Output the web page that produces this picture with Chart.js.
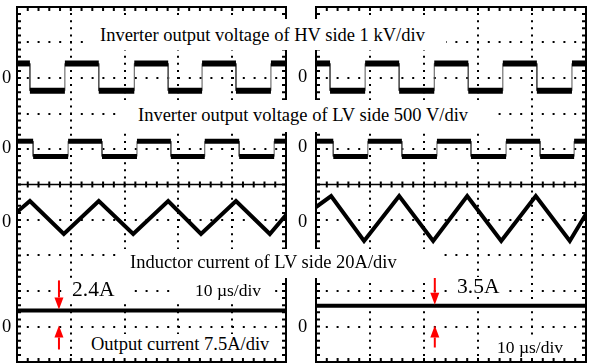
<!DOCTYPE html>
<html>
<head>
<meta charset="utf-8">
<script src="https://cdn.jsdelivr.net/npm/chart.js@4.4.0/dist/chart.umd.min.js"></script>
<style>
html, body { margin: 0; padding: 0; background: #fff; }
#wrap { position: relative; width: 594px; height: 364px; overflow: hidden;
        font-family: "Liberation Serif", "Times New Roman", serif; }
canvas { position: absolute; top: 0; }
.box { position: absolute; background: #fff; }
.lbl { position: absolute; white-space: nowrap; color: #000; line-height: 1; font-size: 18.5px; }
.big { font-size: 21.5px; }
.small { font-size: 17.5px; }
</style>
</head>
<body>
<div id="wrap">
  <canvas id="left" width="297" height="364" style="left:0"></canvas>
  <canvas id="right" width="297" height="364" style="left:297px"></canvas>

  <div class="box" style="left:88px;top:19px;width:358px;height:31px"></div>
  <div class="lbl" style="left:100px;top:25.5px">Inverter output voltage of HV side 1 kV/div</div>

  <div class="box" style="left:118px;top:100px;width:372px;height:32px"></div>
  <div class="lbl" style="left:138px;top:105.5px">Inverter output voltage of LV side 500 V/div</div>

  <div class="box" style="left:124px;top:249px;width:318px;height:29px"></div>
  <div class="lbl" style="left:130px;top:252.5px">Inductor current of LV side 20A/div</div>

  <div class="box" style="left:65px;top:280px;width:68px;height:20px"></div>
  <div class="lbl big" style="left:72px;top:279px">2.4A</div>

  <div class="box" style="left:172px;top:281px;width:96px;height:20px"></div>
  <div class="lbl small" style="left:195px;top:282.3px">10 µs/div</div>

  <div class="box" style="left:84px;top:334px;width:190px;height:22px"></div>
  <div class="lbl" style="left:91px;top:334.5px">Output current 7.5A/div</div>

  <div class="box" style="left:450px;top:277px;width:56px;height:20px"></div>
  <div class="lbl big" style="left:457px;top:276px">3.5A</div>

  <div class="box" style="left:490px;top:335px;width:82px;height:22px"></div>
  <div class="lbl small" style="left:497px;top:339.3px">10 µs/div</div>

  <div class="lbl" style="left:2px;top:67.5px">0</div>
  <div class="lbl" style="left:2px;top:137.5px">0</div>
  <div class="lbl" style="left:2px;top:211.5px">0</div>
  <div class="lbl" style="left:2px;top:316.5px">0</div>
  <div class="lbl" style="left:298px;top:66.5px">0</div>
  <div class="lbl" style="left:298px;top:136.5px">0</div>
  <div class="lbl" style="left:298px;top:211.5px">0</div>
  <div class="lbl" style="left:298px;top:316.5px">0</div>
</div>
<script>
// time window, us (10 us/div, 5 div)
var timeMin = 0, timeMax = 50;

// switching edges, us
var hvEdgesL = [2.4, 8.9, 15.2, 21.8, 28.1, 34.4, 40.7, 47.2];
var lvEdgesL = [3.0, 9.5, 15.8, 22.3, 28.6, 34.9, 41.3, 47.8];
var hvEdgesR = [2.6, 9.1, 15.4, 21.9, 28.2, 34.6, 40.9, 47.4];
var lvEdgesR = [3.2, 9.6, 15.9, 22.4, 28.7, 35.2, 41.5, 47.8];

// square wave levels (high, low)
var hvLevels = [0.41, -0.36];   // kV
var lvLevels = [110, -105];     // V

// inductor current corners
var iLTimeL = [0, 2.4, 8.7, 15.2, 21.6, 28.1, 34.2, 40.7, 47.0, 50];
var iLValL  = [4.5, 10.7, -7.9, 10.7, -7.9, 10.7, -7.9, 10.7, -7.9, 2.8];
var iLTimeR = [0, 2.8, 8.9, 15.4, 21.7, 28.0, 34.3, 40.7, 47.0, 50];
var iLValR  = [7.3, 13.5, -11.8, 13.5, -11.8, 13.5, -11.8, 13.5, -11.8, 3.4];

// output current, A
var ioL = 3.4, ioR = 4.4;

// channel settings: units per div and zero position (div from centre)
var chScale = { hv: 1, lv: 500, iL: 20, io: 7.5 };
var chZero  = { hv: 3, lv: 1, iL: -1, io: -4 };

// where the red arrows sit, us
var arrowTimeL = 7.8, arrowTimeR = 22.0;

function squarePts(edges, levels, ch) {
  var pts = [], lvl = 0;
  var y = function (v) { return chZero[ch] + v / chScale[ch]; };
  pts.push({ x: timeMin, y: y(levels[0]) });
  edges.forEach(function (t) {
    pts.push({ x: t, y: y(levels[lvl]) });
    lvl = 1 - lvl;
    pts.push({ x: t, y: y(levels[lvl]) });
  });
  pts.push({ x: timeMax, y: y(levels[lvl]) });
  return pts;
}

function cornerPts(times, vals, ch) {
  return times.map(function (t, i) {
    return { x: t, y: chZero[ch] + vals[i] / chScale[ch] };
  });
}

function flatPts(v, ch) {
  var y = chZero[ch] + v / chScale[ch];
  return [{ x: timeMin, y: y }, { x: timeMax, y: y }];
}

// thick noisy flats (drawn under) + thin edges; dataset 0 ends up on top
function squareSets(pts, w) {
  return [
    { data: pts, borderColor: '#555', borderWidth: 1 },
    { data: pts, borderColor: '#000', borderWidth: w,
      segment: { borderColor: function (c) { return c.p0.parsed.x === c.p1.parsed.x ? 'rgba(0,0,0,0)' : '#000'; } } }
  ].reverse();
}

var scopeFrame = {
  id: 'scopeFrame',
  beforeDatasetsDraw: function (chart) {
    var a = chart.chartArea, xs = chart.scales.x, ys = chart.scales.y, ctx = chart.ctx;
    var cy = ys.getPixelForValue(0);
    ctx.save();
    ctx.strokeStyle = '#000';
    ctx.lineWidth = 1.5;
    ctx.beginPath();
    ctx.moveTo(a.left, cy); ctx.lineTo(a.right, cy);
    ctx.stroke();
    ctx.lineWidth = 2;
    ctx.beginPath();
    for (var i = 0; i <= 25; i++) {
      var px = xs.getPixelForValue(i * 2);
      ctx.moveTo(px, a.top); ctx.lineTo(px, a.top + 4);
      ctx.moveTo(px, a.bottom); ctx.lineTo(px, a.bottom - 4);
      ctx.moveTo(px, cy - 3); ctx.lineTo(px, cy + 3);
    }
    for (var j = -25; j <= 25; j++) {
      var py = ys.getPixelForValue(j / 5);
      ctx.moveTo(a.left, py); ctx.lineTo(a.left + 4, py);
      ctx.moveTo(a.right, py); ctx.lineTo(a.right - 4, py);
    }
    ctx.stroke();
    ctx.strokeRect(a.left, a.top, a.right - a.left, a.bottom - a.top);
    ctx.restore();
  },
  afterDatasetsDraw: function (chart) {
    var o = chart.options.plugins.scopeFrame;
    if (!o) return;
    var ctx = chart.ctx;
    var x = chart.scales.x.getPixelForValue(o.arrowTime);
    var tipDown = chart.scales.y.getPixelForValue(chZero.io + o.io / chScale.io) - 1;
    var tipUp = chart.scales.y.getPixelForValue(chZero.io) - 1;
    ctx.save();
    ctx.strokeStyle = '#f00';
    ctx.fillStyle = '#f00';
    ctx.lineWidth = 2;
    arrow(ctx, x, tipDown, 1, o.lenDown);
    arrow(ctx, x, tipUp, -1, o.lenUp);
    ctx.restore();
  }
};

function arrow(ctx, x, tip, dir, len) {
  var head = 12, half = 4.5;
  ctx.beginPath();
  ctx.moveTo(x, tip - dir * len);
  ctx.lineTo(x, tip - dir * head);
  ctx.stroke();
  ctx.beginPath();
  ctx.moveTo(x, tip);
  ctx.lineTo(x - half, tip - dir * head);
  ctx.lineTo(x + half, tip - dir * head);
  ctx.closePath();
  ctx.fill();
}

function edgeColor(min, max) {
  return function (c) {
    var v = c.tick ? c.tick.value : null;
    return (v === min || v === max || v === 0 && min < 0) ? 'rgba(0,0,0,0)' : '#000';
  };
}

function makeScope(id, sets, pad, arrowOpts) {
  return new Chart(document.getElementById(id), {
    type: 'line',
    data: { datasets: sets },
    options: {
      responsive: false,
      animation: false,
      events: [],
      layout: { padding: pad },
      elements: { point: { radius: 0 }, line: { tension: 0, borderJoinStyle: 'miter' } },
      plugins: { legend: { display: false }, tooltip: { enabled: false }, scopeFrame: arrowOpts },
      scales: {
        x: {
          type: 'linear', min: timeMin, max: timeMax,
          ticks: { display: false, stepSize: 10 },
          grid: { drawTicks: false, lineWidth: 2, color: edgeColor(timeMin, timeMax) },
          border: { display: false, dash: [2, 5.1], dashOffset: 1 }
        },
        y: {
          type: 'linear', min: -5, max: 5,
          ticks: { display: false, stepSize: 1 },
          grid: { drawTicks: false, lineWidth: 2, color: edgeColor(-5, 5) },
          border: { display: false, dash: [2, 8.8], dashOffset: 1 }
        }
      }
    },
    plugins: [scopeFrame]
  });
}

var leftSets = []
  .concat(squareSets(squarePts(hvEdgesL, hvLevels, 'hv'), 6))
  .concat(squareSets(squarePts(lvEdgesL, lvLevels, 'lv'), 5))
  .concat([{ data: cornerPts(iLTimeL, iLValL, 'iL'), borderColor: '#000', borderWidth: 4 }])
  .concat([{ data: flatPts(ioL, 'io'), borderColor: '#000', borderWidth: 4 }]);

var rightSets = []
  .concat(squareSets(squarePts(hvEdgesR, hvLevels, 'hv'), 6))
  .concat(squareSets(squarePts(lvEdgesR, lvLevels, 'lv'), 5))
  .concat([{ data: cornerPts(iLTimeR, iLValR, 'iL'), borderColor: '#000', borderWidth: 4 }])
  .concat([{ data: flatPts(ioR, 'io'), borderColor: '#000', borderWidth: 4 }]);

makeScope('left', leftSets, { left: 17, right: 11, top: 7, bottom: 2 },
  { arrowTime: arrowTimeL, io: ioL, lenDown: 29, lenUp: 24 });
makeScope('right', rightSets, { left: 19, right: 8, top: 7, bottom: 2 },
  { arrowTime: arrowTimeR, io: ioR, lenDown: 28, lenUp: 22 });
</script>
</body>
</html>
